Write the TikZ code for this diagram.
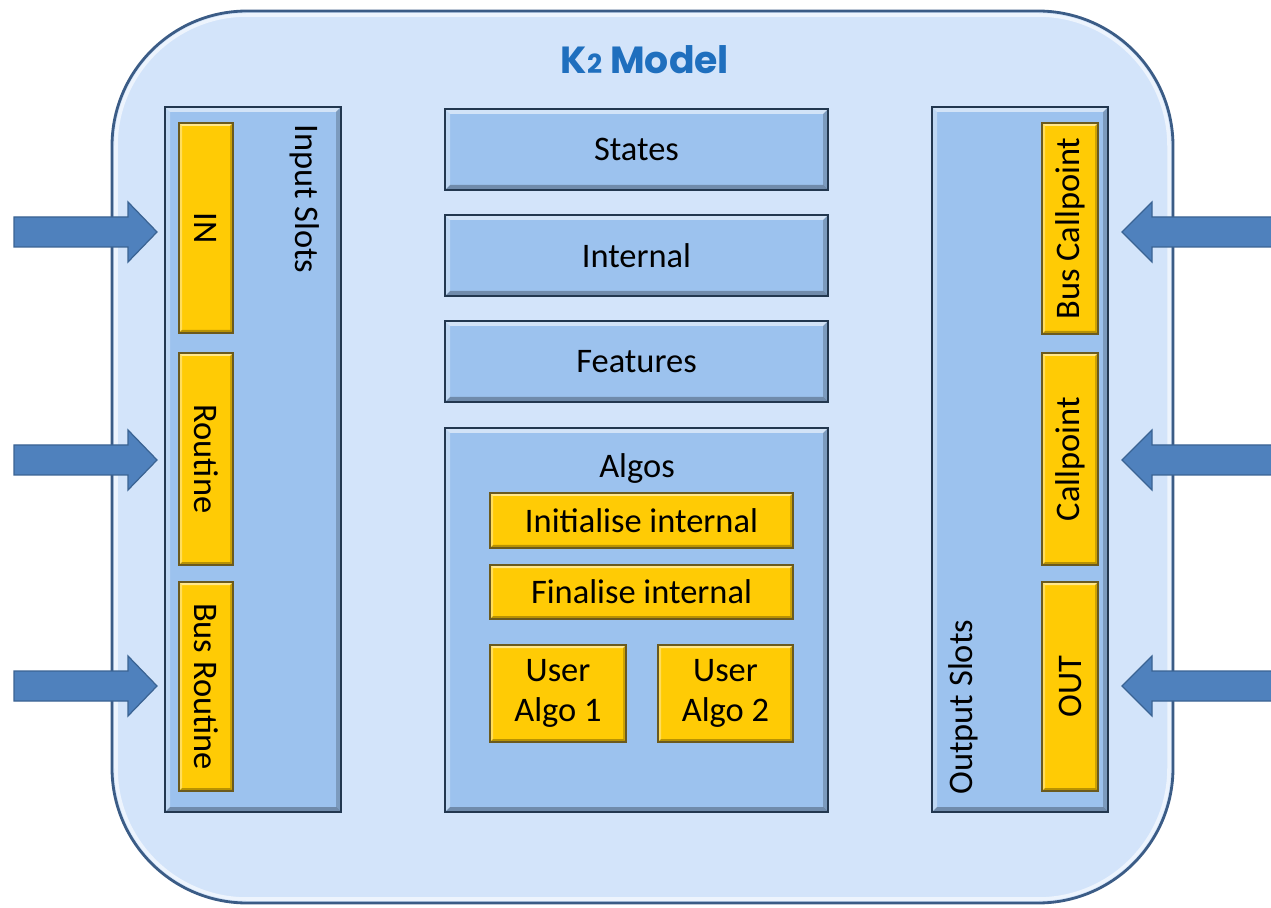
\documentclass[tikz,border=0pt]{standalone}
\usepackage{fontspec}
\setmainfont{Carlito}
\newfontfamily\titlefont{Poppins}
\usetikzlibrary{fit}

\definecolor{outerfill}{HTML}{D3E4FA}
\definecolor{outerline}{HTML}{3B5C86}
\definecolor{panelfill}{HTML}{9CC2EE}
\definecolor{panelline}{HTML}{22374F}
\definecolor{slotfill}{HTML}{FFCB05}
\definecolor{slotline}{HTML}{6B5A1E}
\definecolor{arrowfill}{HTML}{4F81BD}
\definecolor{arrowline}{HTML}{3A6393}
\definecolor{titleblue}{HTML}{1F6FBE}

\tikzset{
  bevel/.style={path picture={
    \fill[white,opacity=.55] (path picture bounding box.north west) -- (path picture bounding box.north east)
      -- ++(-#1,#1) -- ([shift={(#1,#1)}]path picture bounding box.north west) -- cycle;
    \fill[white,opacity=.35] (path picture bounding box.north west) -- (path picture bounding box.south west)
      -- ++(#1,-#1) -- ([shift={(#1,#1)}]path picture bounding box.north west) -- cycle;
    \fill[black,opacity=.28] (path picture bounding box.south west) -- (path picture bounding box.south east)
      -- ++(-#1,-#1) -- ([shift={(#1,-#1)}]path picture bounding box.south west) -- cycle;
    \fill[black,opacity=.2] (path picture bounding box.north east) -- (path picture bounding box.south east)
      -- ++(-#1,-#1) -- ([shift={(-#1,#1)}]path picture bounding box.north east) -- cycle;
  }},
  sz/.style 2 args={minimum width=#1*0.02cm, minimum height=#2*0.02cm},
  body/.style={draw=outerline, line width=1.6pt, fill=outerfill, rounded corners=2.7cm, inner sep=0pt},
  panel/.style={draw=panelline, line width=1.5pt, fill=panelfill, inner sep=0pt, bevel=5,
    font=\fontsize{19.6}{23}\selectfont},
  slot/.style={draw=slotline, line width=0.8pt, fill=slotfill, inner sep=0pt, bevel=3,
    font=\fontsize{19.6}{23}\selectfont, align=center},
  label text/.style={inner sep=0pt, font=\fontsize{19.6}{23}\selectfont},
  title text/.style={inner sep=0pt, text=titleblue, font=\titlefont\bfseries\fontsize{21.5}{24}\selectfont},
  blockarrow/.style={draw=arrowline, line width=0.7pt, fill=arrowfill, line join=miter},
  inarrow/.pic={\draw[blockarrow] (0,0) -- (-29,-30) -- (-29,-15) -- (-143,-15) -- (-143,15) -- (-29,15) -- (-29,30) -- cycle;},
  outarrow/.pic={\draw[blockarrow] (0,0) -- (30,-30) -- (30,-15) -- (160,-15) -- (160,15) -- (30,15) -- (30,30) -- cycle;}
}

\begin{document}
\begin{tikzpicture}[x=0.02cm, y=-0.02cm]
\useasboundingbox (0,0) rectangle (1271,908);

% model body
\node[body, fit={(112,11) (1173,903)}] (model) {};
\draw[white, opacity=.6, line width=2pt, rounded corners=2.62cm] (116,15) rectangle (1169,899);
\node[title text] (title) at (645,60) {K{\fontsize{15}{15}\selectfont 2} Model};

% input slots
\node[panel, fit={(165,107) (341,812)}] (inpanel) {};
\node[label text, rotate=-90, anchor=west] (inlabel) at (305,124) {Input Slots};
\node[slot, fit={(179,123) (233,333)}] (in) {};
\node[slot, fit={(179,353) (233,565)}] (routine) {};
\node[slot, fit={(179,582) (233,791)}] (busroutine) {};
\node[label text, rotate=-90] (inT) at (in) {IN};
\node[label text, rotate=-90] (routineT) at (routine) {Routine};
\node[label text, rotate=-90] (busroutineT) at (busroutine) {Bus Routine};

% output slots
\node[panel, fit={(932,107) (1108,812)}] (outpanel) {};
\node[label text, rotate=90, anchor=west] (outlabel) at (963,795) {Output Slots};
\node[slot, fit={(1042,123) (1098,334)}] (buscallpoint) {};
\node[slot, fit={(1042,353) (1098,565)}] (callpoint) {};
\node[slot, fit={(1042,582) (1098,791)}] (out) {};
\node[label text, rotate=90] (buscallpointT) at (buscallpoint) {Bus Callpoint};
\node[label text, rotate=90] (callpointT) at (callpoint) {Callpoint};
\node[label text, rotate=90] (outT) at (out) {OUT};

% central blocks
\node[panel, sz={383}{81}] (states) at (636.5,149.5) {States};
\node[panel, sz={383}{81}] (internal) at (636.5,255.5) {Internal};
\node[panel, sz={383}{81}] (features) at (636.5,361.5) {Features};
\node[panel, fit={(445,428) (828,812)}] (algos) {};
\node[label text] (algoslabel) at (637,469) {Algos};
\node[slot, sz={303}{55}] (init) at (641.5,520.5) {Initialise internal};
\node[slot, sz={303}{54}] (final) at (641.5,592) {Finalise internal};
\node[slot, sz={136}{97}] (user1) at (558,693.5) {User\\Algo 1};
\node[slot, sz={135}{97}] (user2) at (725.5,693.5) {User\\Algo 2};

% incoming block arrows
\coordinate (tipA) at (157,232);
\coordinate (tipB) at (157,460);
\coordinate (tipC) at (157,686);
\coordinate (tipD) at (1122,232);
\coordinate (tipE) at (1122,460);
\coordinate (tipF) at (1122,686);
\pic at (tipA) {inarrow};
\pic at (tipB) {inarrow};
\pic at (tipC) {inarrow};
\pic at (tipD) {outarrow};
\pic at (tipE) {outarrow};
\pic at (tipF) {outarrow};
\end{tikzpicture}
\end{document}
